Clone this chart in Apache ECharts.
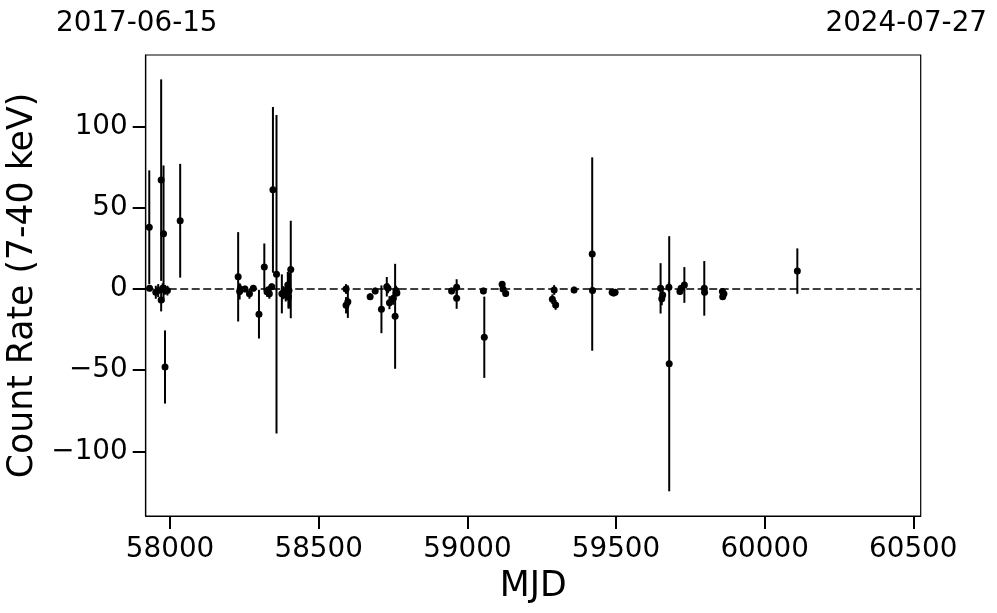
<!DOCTYPE html>
<html><head><meta charset="utf-8">
<script src="https://cdn.jsdelivr.net/npm/echarts@6/dist/echarts.min.js"></script>
<style>html,body{margin:0;padding:0;background:#fff}#c{width:997px;height:613px}</style>
</head><body><div id="c"></div><script>
const mjd = [57930,57931,57952,57960,57970,57970,57975,57978,57983,57983,57991,58034,
  58229,58234,58236,58252,58267,58280,58299,58317,58326,58330,58334,58342,58346,58358,
  58376,58381,58389,58392,58396,58398,58400,58406,
  58592,58592,58598,58673,58690,58711,58729,58733,58738,58751,58757,58760,58763,
  58947,58964,58964,59054,59057,59117,59120,59129,
  59286,59292,59297,59359,59420,59421,59487,59492,59497,
  59650,59654,59657,59678,59679,59715,59719,59730,59797,59798,59858,59859,59863,60110];
const rate = [38,0.5,-2,-1,67,-6.8,0.5,34,-48,-0.5,-1,42,
  7.5,-1.5,0,0,-3,0.5,-15.5,13.5,-1.7,-0.6,-3,1.4,61,9,
  -3,-2.3,-3.7,-0.6,2.5,-5,-1,12,
  0,-10,-7.8,-4.7,-1.2,-12.5,1.4,0.4,-8.4,-5.7,-16.8,-1,-2.5,
  -1.2,1,-5.7,-1.2,-29.7,2.9,0,-2.7,
  -6.3,-0.6,-9.8,-0.6,21.5,-1,-2,-2.5,-2,
  0.4,-6,-3.7,1,-46,-1.6,0.4,2.5,0.4,-2,-1.6,-4.7,-3,11];
const rateErr = [35,2,4,4,62,7,3,42,22.5,3,3,35,
  27.5,5,3,2,3,2,15,14.5,3,2,3,2,51,98,
  12,4,4,4,8,7,11,30,
  3,5,10,2,2,14.7,6,3,4,4,32.3,3,2,
  2,5,6.5,2,25,2,2,2,
  3,3,3,2,59.5,2,2,2,2,
  15.5,4,3,3,78.5,2,2,11,16.8,2,2,2,2,14];
const xTicks = [58000,58500,59000,59500,60000,60500];
const yTicks = [-100,-50,0,50,100];
const startDateLabel = '2017-06-15';
const endDateLabel = '2024-07-27';
const xLabel = 'MJD';
const yLabel = 'Count Rate (7-40 keV)';

const FONT = 'DejaVu Sans';
const X_MIN = 57918, X_MAX = 60525, Y_MIN = -139.7, Y_MAX = 144;
const pts = mjd.map((m,i)=>[m, rate[i], rateErr[i]]);
const chart = echarts.init(document.getElementById('c'), null, {renderer:'canvas'});
const tickStyle = {show:true, inside:false, length:13, lineStyle:{color:'#000', width:2}};
const lineStyle = {show:true, onZero:false, lineStyle:{color:'#000', width:1.2}};
chart.setOption({
  animation:false,
  backgroundColor:'#fff',
  grid:{left:145.7, right:76.3, top:55, bottom:97, show:true, borderColor:'#000', borderWidth:1.2,
    backgroundColor:'transparent', containLabel:false, outerBoundsMode:'none'},
  xAxis:{type:'value', min:X_MIN, max:X_MAX, position:'bottom',
    axisLine:lineStyle, splitLine:{show:false},
    axisTick:Object.assign({customValues:xTicks}, tickStyle),
    axisLabel:{customValues:xTicks, fontFamily:FONT, fontSize:27.8, color:'#000', margin:20,
      formatter:v=>String(v)},
    name:xLabel, nameLocation:'middle', nameGap:53,
    nameTextStyle:{fontFamily:FONT, fontSize:34.7, color:'#000'}},
  yAxis:{type:'value', min:Y_MIN, max:Y_MAX, position:'left',
    axisLine:lineStyle, splitLine:{show:false},
    axisTick:Object.assign({customValues:yTicks}, tickStyle),
    axisLabel:{customValues:yTicks, fontFamily:FONT, fontSize:27.8, color:'#000', margin:18,
      formatter:v=> v<0 ? '\u2212'+Math.abs(v) : String(v)},
    name:yLabel, nameLocation:'middle', nameGap:92, nameRotate:90,
    nameTextStyle:{fontFamily:FONT, fontSize:34.7, color:'#000'}},
  graphic:[
    {type:'text', left:56, top:10, style:{text:startDateLabel, font:'27.8px "DejaVu Sans"', fill:'#000'}},
    {type:'text', right:10, top:10, style:{text:endDateLabel, font:'27.8px "DejaVu Sans"', fill:'#000'}}
  ],
  series:[
    {type:'custom', data:pts, encode:{x:0,y:1}, clip:true, z:2,
      renderItem:function(params, api){
        const x=api.value(0), y=api.value(1), e=api.value(2);
        const a=api.coord([x,y+e]), b=api.coord([x,y-e]);
        return {type:'line', shape:{x1:a[0],y1:a[1],x2:b[0],y2:b[1]}, style:{stroke:'#000', lineWidth:2}};
      }},
    {type:'scatter', data:pts.map(p=>[p[0],p[1]]), symbol:'circle', symbolSize:7, z:3,
      itemStyle:{color:'#000', opacity:1},
      markLine:{silent:true, symbol:'none', label:{show:false},
        lineStyle:{color:'#000', width:1.5, type:[8,3.5], opacity:1},
        data:[{yAxis:0}]}}
  ]
});
</script></body></html>
